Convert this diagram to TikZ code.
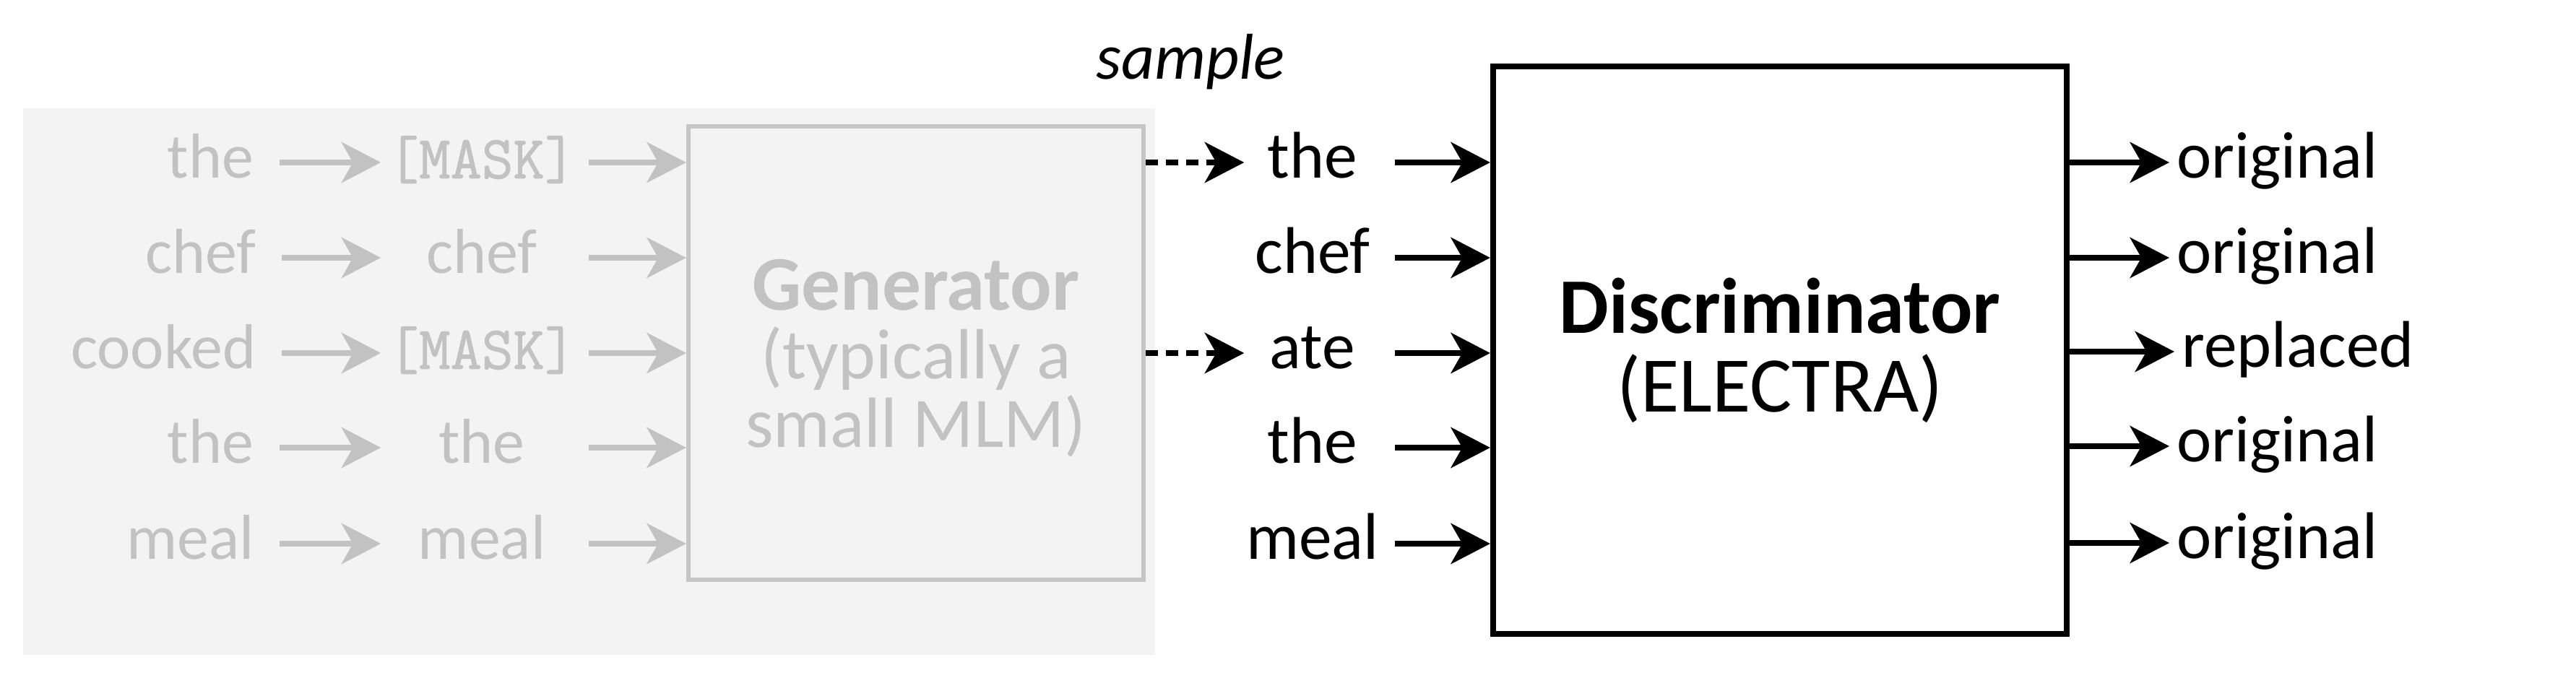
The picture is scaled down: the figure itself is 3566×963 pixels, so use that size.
\documentclass[tikz,border=0pt]{standalone}
\usepackage{fontspec}
\setmainfont{Carlito}
\setmonofont{Latin Modern Mono}[FakeBold=1.2]
\usetikzlibrary{arrows.meta}
\definecolor{gtext}{HTML}{C2C2C2}
\definecolor{gbg}{HTML}{F3F3F3}
\definecolor{gline}{HTML}{C6C6C6}
\begin{document}
\fontsize{26}{30}\selectfont
\begin{tikzpicture}[x=0.01cm,y=-0.01cm,
  arr/.style={line width=2pt,-{Stealth[length=15.5pt,width=16pt,inset=4.5pt]}},
  garr/.style={arr,draw=gtext,fill=gtext},
  dasharr/.style={arr,dash pattern=on 4.8pt off 3.1pt},
  lword/.style={anchor=mid east,inner sep=0pt,text=gtext,font=\fontsize{25}{30}\selectfont},
  mword/.style={anchor=mid,inner sep=0pt,minimum width=2.78cm,text=gtext,font=\fontsize{25}{30}\selectfont},
  mmask/.style={mword,font=\ttfamily\fontsize{24}{30}\selectfont},
  rword/.style={anchor=mid,inner sep=0pt,minimum width=1.96cm,font=\fontsize{26}{30}\selectfont},
  oword/.style={anchor=mid west,inner sep=0pt,font=\fontsize{26}{30}\selectfont}
]
\useasboundingbox (0,0) rectangle (3566,963);
\fill[white] (0,0) rectangle (3566,963);
% grey background of the generator part
\fill[gbg] (32,150) rectangle (1599,907);
% generator box
\node[draw=gline,line width=1.7pt,minimum width=6.3cm,minimum height=6.28cm,inner sep=0pt] (gen) at (1268,489) {};
\node[align=center,inner sep=0pt,text=gtext,font=\fontsize{28}{27}\selectfont] (gentext) at (1268,496)
  {{\bfseries\fontsize{30.5}{27}\selectfont Generator}\\(typically a\\small MLM)};
% discriminator box
\node[draw,line width=2.2pt,minimum width=7.94cm,minimum height=7.85cm,
  inner sep=0pt,align=center,font=\fontsize{31}{31}\selectfont] (disc) at (2464,485)
  {{\bfseries Discriminator}\\(ELECTRA)};
% left words
\node[lword] (l1) at (352,225) {the};
\node[lword] (l2) at (355,357) {chef};
\node[lword] (l3) at (355,489) {cooked};
\node[lword] (l4) at (352,620) {the};
\node[lword] (l5) at (352,753) {meal};
% middle words
\node[mmask] (m1) at (667,225) {[MASK]};
\node[mword] (m2) at (667,357) {chef};
\node[mmask] (m3) at (667,489) {[MASK]};
\node[mword] (m4) at (667,620) {the};
\node[mword] (m5) at (667,753) {meal};
\foreach \i in {1,...,5}{
  \draw[garr,shorten <=0.35cm] (l\i.mid east) -- (m\i.mid west);
  \draw[garr,shorten <=0.08cm] (m\i.mid east) -- (m\i.mid east -| gen.west);
}
% sampled words
\node[rword] (r1) at (1817,225) {the};
\node[rword] (r2) at (1817,357) {chef};
\node[rword] (r3) at (1817,489) {ate};
\node[rword] (r4) at (1817,620) {the};
\node[rword] (r5) at (1817,753) {meal};
\node[anchor=mid,inner sep=0pt,font=\itshape\fontsize{25.5}{30}\selectfont] (smp) at (1648,88) {sample};
\draw[dasharr] (r1.mid west -| gen.east) -- ([xshift=0.04cm]r1.mid west);
\draw[dasharr] (r3.mid west -| gen.east) -- ([xshift=0.04cm]r3.mid west);
\foreach \i in {1,...,5}{
  \draw[arr,shorten <=0.15cm] (r\i.mid east) -- (r\i.mid east -| disc.west);
}
% outputs
\node[oword] (o1) at (3013,225) {original};
\node[oword] (o2) at (3013,357) {original};
\node[oword] (o3) at (3020,487) {replaced};
\node[oword] (o4) at (3013,618) {original};
\node[oword] (o5) at (3013,752) {original};
\foreach \i in {1,...,5}{
  \draw[arr,shorten >=0.1cm] (o\i.mid west -| disc.east) -- (o\i.mid west);
}
\end{tikzpicture}
\end{document}
